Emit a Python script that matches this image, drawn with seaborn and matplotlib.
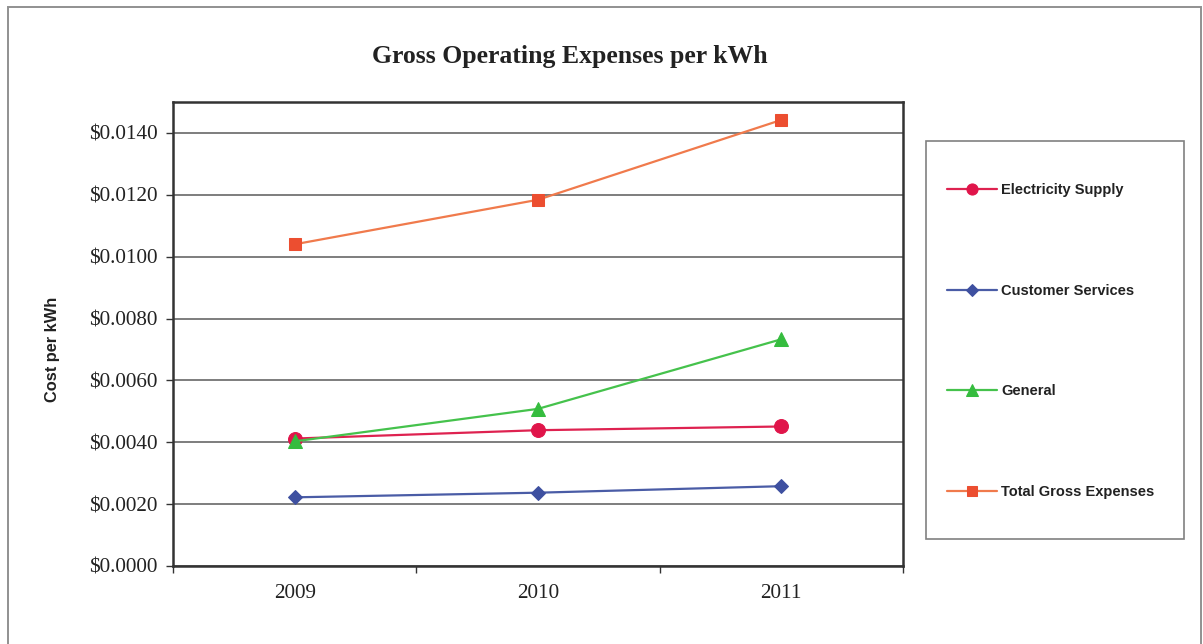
import matplotlib
matplotlib.use("Agg")
import matplotlib.pyplot as plt
import matplotlib.ticker as mticker
from matplotlib.patches import Rectangle
import pandas as pd
import seaborn as sns

# Cost per kWh by year for each expense category
years = ["2009", "2010", "2011"]
electricity_supply = [0.00412, 0.00439, 0.00451]
customer_services = [0.00222, 0.00237, 0.00258]
general = [0.00403, 0.00508, 0.00733]
total_gross = [0.01040, 0.01184, 0.01442]

series_names = ["Electricity Supply", "Customer Services", "General", "Total Gross Expenses"]
y_ticks = [0.0, 0.002, 0.004, 0.006, 0.008, 0.010, 0.012, 0.014]

df = pd.DataFrame({
    "Year": years * 4,
    "Cost": electricity_supply + customer_services + general + total_gross,
    "Series": [s for s in series_names for _ in years],
})

line_colors = {
    "Electricity Supply": "#DE2250",
    "Customer Services": "#4A5CA6",
    "General": "#45C24C",
    "Total Gross Expenses": "#F07A4C",
}
marker_colors = {
    "Electricity Supply": "#E0154A",
    "Customer Services": "#3E50A0",
    "General": "#35BC3E",
    "Total Gross Expenses": "#EC4E30",
}
markers = {
    "Electricity Supply": "o",
    "Customer Services": "D",
    "General": "^",
    "Total Gross Expenses": "s",
}
marker_sizes = {
    "Electricity Supply": 10,
    "Customer Services": 7.5,
    "General": 10,
    "Total Gross Expenses": 9,
}

sns.set_theme(style="white")
plt.rcParams["font.family"] = ["Liberation Serif", "DejaVu Serif"]

fig = plt.figure(figsize=(12.03, 6.44), dpi=100)
ax = fig.add_axes([173 / 1203, 1 - 566 / 644, 730 / 1203, 464 / 644])

for name in series_names:
    sub = df[df["Series"] == name]
    sns.lineplot(
        data=sub, x="Year", y="Cost", ax=ax, color=line_colors[name],
        linewidth=1.6, marker=markers[name], markersize=marker_sizes[name],
        markerfacecolor=marker_colors[name], markeredgecolor=marker_colors[name],
        label=name, sort=False, zorder=3,
    )

ax.set_xlim(-0.5, 2.5)
ax.set_ylim(0, 0.015)
ax.set_yticks(y_ticks)
ax.yaxis.set_major_formatter(mticker.FuncFormatter(lambda v, _: f"${v:.4f}"))
ax.set_xticks(range(len(years)))
ax.set_xticklabels(years)
ax.set_xticks([-0.5, 0.5, 1.5, 2.5], minor=True)

ax.grid(axis="y", color="#5a5a5a", linewidth=1.1, zorder=1)
ax.grid(axis="x", visible=False)
for sp in ax.spines.values():
    sp.set_color("#333333")
    sp.set_linewidth(1.8)

ax.tick_params(axis="y", which="major", direction="out", length=5, width=1,
               color="#333333", left=True, pad=6, labelsize=15.2, labelcolor="#222222")
ax.tick_params(axis="x", which="major", length=0, pad=13, labelsize=15.2,
               labelcolor="#222222")
ax.tick_params(axis="x", which="minor", direction="out", length=5, width=1,
               color="#333333", bottom=True)

ax.set_xlabel("")
ax.set_ylabel("Cost per kWh", family=["Liberation Sans", "DejaVu Sans"],
              fontweight="bold", fontsize=11.8, color="#222222", va="center")
ax.yaxis.set_label_coords((53 - 173) / 730, (566 - 349.5) / 464)

fig.text(570 / 1203, 1 - 56 / 644, "Gross Operating Expenses per kWh",
         ha="center", va="center", fontsize=18.5, fontweight="bold", color="#222222")

# legend panel and outer chart border
fig.patches.append(Rectangle((926 / 1203, 1 - 539 / 644), 258 / 1203, 398 / 644,
                             transform=fig.transFigure, fill=False,
                             edgecolor="#808080", linewidth=1.2))
fig.patches.append(Rectangle((8 / 1203, -0.05), 1193 / 1203, 1.05 - 7 / 644,
                             transform=fig.transFigure, fill=False,
                             edgecolor="#909090", linewidth=1.4))

handles, labels = ax.get_legend_handles_labels()
ax.get_legend().remove()
fig.legend(handles, labels, loc="center left",
           bbox_to_anchor=(940 / 1203, 1 - 341 / 644),
           frameon=False, borderpad=0, handlelength=3.4, handletextpad=0.3,
           labelspacing=5.95, markerscale=0.8,
           prop={"family": ["Liberation Sans", "DejaVu Sans"], "weight": "bold",
                 "size": 10.5})
for t in fig.legends[0].get_texts():
    t.set_color("#222222")

fig.savefig("out.png", dpi=100, facecolor="white")
